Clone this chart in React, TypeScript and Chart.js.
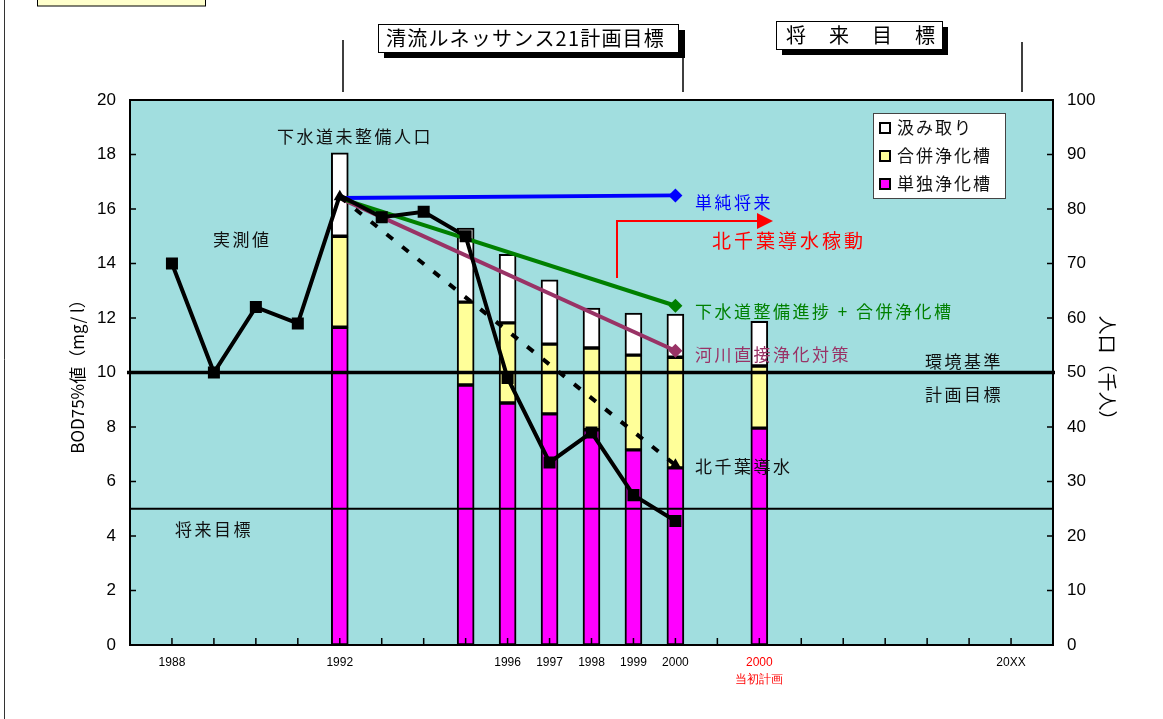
import React, { useEffect, useRef } from 'react';
import { Chart, registerables } from 'chart.js';
Chart.register(...registerables);

const JP = '"Noto Sans CJK JP", sans-serif';
const LAT = '"Liberation Sans", Arial, sans-serif';

const N = null;
// category slots (index 0 and 22 are empty padding slots)
const categories = ['', '1988', '1989', '1990', '1991', '1992', '1993', '1994', '1995', '1996', '1997', '1998', '1999', '2000', '', '2000当初計画', '', '', '', '', '', '20XX', ''];
const tickLabels: (string | string[])[] = ['', '1988', '', '', '', '1992', '', '', '', '1996', '1997', '1998', '1999', '2000', '', ['2000', '当初計画'], '', '', '', '', '', '20XX', ''];

// population (thousand people) – right axis
const singleTank = [N, N, N, N, N, 58.3, N, N, 47.7, 44.4, 42.4, 39.5, 35.8, 32.5, N, 39.8, N, N, N, N, N, N, N];
const combinedTank = [N, N, N, N, N, 16.7, N, N, 15.2, 14.7, 12.8, 15.0, 17.4, 20.3, N, 11.4, N, N, N, N, N, N, N];
const pumping = [N, N, N, N, N, 15.3, N, N, 13.6, 12.6, 11.8, 7.3, 7.7, 7.9, N, 8.2, N, N, N, N, N, N, N];

// BOD (mg/l) – left axis
const measured = [N, 14.0, 10.0, 12.4, 11.8, 16.5, 15.7, 15.9, 15.0, 9.8, 6.7, 7.8, 5.5, 4.55, N, N, N, N, N, N, N, N, N];
const kitachiba = [N, N, N, N, N, 16.45, N, N, N, N, N, N, N, 6.6, N, N, N, N, N, N, N, N, N];
const simpleFuture = [N, N, N, N, N, 16.4, N, N, N, N, N, N, N, 16.5, N, N, N, N, N, N, N, N, N];
const sewerProgress = [N, N, N, N, N, 16.4, N, N, N, N, N, N, N, 12.45, N, N, N, N, N, N, N, N, N];
const riverPurify = [N, N, N, N, N, 16.4, N, N, N, N, N, N, N, 10.8, N, N, N, N, N, N, N, N, N];

const envStandard = 10;
const futureTarget = 5;

const BG = '#A1DEDF';

function jpText(ctx: CanvasRenderingContext2D, text: string, x: number, y: number, color: string, size = 17, spacing = 2.5, align: CanvasTextAlign = 'left') {
  ctx.save();
  ctx.font = `${size}px ${JP}`;
  (ctx as any).letterSpacing = `${spacing}px`;
  ctx.fillStyle = color;
  ctx.textAlign = align;
  ctx.textBaseline = 'middle';
  ctx.fillText(text, x, y);
  ctx.restore();
}

function drawHLines(chart: any) {
  const { ctx, chartArea: a, scales } = chart;
  const y = scales.y;
  ctx.save();
  ctx.strokeStyle = '#000';
  ctx.lineWidth = 3.5;
  ctx.beginPath();
  const y10 = y.getPixelForValue(envStandard);
  ctx.moveTo(a.left - 3, y10);
  ctx.lineTo(a.right + 2, y10);
  ctx.stroke();
  ctx.lineWidth = 2;
  ctx.beginPath();
  const y5 = y.getPixelForValue(futureTarget);
  ctx.moveTo(a.left, y5);
  ctx.lineTo(a.right, y5);
  ctx.stroke();
  ctx.restore();
}

const decor = {
  id: 'decor',
  beforeDraw(chart: any) {
    const { ctx, chartArea: a } = chart;
    ctx.save();
    ctx.fillStyle = '#fff';
    ctx.fillRect(0, 0, chart.width, chart.height);
    ctx.fillStyle = BG;
    ctx.fillRect(a.left, a.top, a.right - a.left, a.bottom - a.top);
    ctx.restore();
  },
  beforeDatasetsDraw(chart: any) {
    chart.$hDrawn = false;
  },
  beforeDatasetDraw(chart: any, args: any) {
    if (!chart.$hDrawn && args.meta.type === 'line') {
      drawHLines(chart);
      chart.$hDrawn = true;
    }
  },
  afterDatasetsDraw(chart: any) {
    const { ctx, chartArea: a, scales } = chart;
    if (!chart.$hDrawn) drawHLines(chart);
    const x = scales.x, y = scales.y, y2 = scales.y2;
    ctx.save();
    ctx.strokeStyle = '#000';
    ctx.lineWidth = 1.5;
    // inner tick marks
    ctx.beginPath();
    for (let i = 1; i <= 21; i++) {
      const px = x.getPixelForValue(i);
      ctx.moveTo(px, a.bottom);
      ctx.lineTo(px, a.bottom - 7);
    }
    y.ticks.forEach((t: any) => {
      const py = y.getPixelForValue(t.value);
      ctx.moveTo(a.left, py);
      ctx.lineTo(a.left + 6, py);
    });
    y2.ticks.forEach((t: any) => {
      const py = y2.getPixelForValue(t.value);
      ctx.moveTo(a.right, py);
      ctx.lineTo(a.right - 6, py);
    });
    ctx.stroke();
    // plot border
    ctx.lineWidth = 2;
    ctx.strokeRect(a.left, a.top, a.right - a.left, a.bottom - a.top);
    ctx.restore();

    // annotations
    jpText(ctx, '下水道未整備人口', 355, 137, '#111', 17, 2.5, 'center');
    jpText(ctx, '実測値', 213, 240, '#111');
    jpText(ctx, '単純将来', 695, 203, '#0000FF');
    jpText(ctx, '北千葉導水稼動', 712, 241, '#FF0000', 19, 3);
    jpText(ctx, '下水道整備進捗 + 合併浄化槽', 695, 312, '#008000');
    jpText(ctx, '河川直接浄化対策', 695, 355, '#993366');
    jpText(ctx, '環境基準', 925, 362, '#111');
    jpText(ctx, '計画目標', 925, 395, '#111');
    jpText(ctx, '北千葉導水', 695, 467, '#111');
    jpText(ctx, '将来目標', 175, 530, '#111');

    // red arrow
    ctx.save();
    ctx.strokeStyle = '#FF0000';
    ctx.fillStyle = '#FF0000';
    ctx.lineWidth = 2;
    ctx.beginPath();
    ctx.moveTo(617, 278);
    ctx.lineTo(617, 221);
    ctx.lineTo(758, 221);
    ctx.stroke();
    ctx.beginPath();
    ctx.moveTo(757, 213);
    ctx.lineTo(773, 221);
    ctx.lineTo(757, 229);
    ctx.closePath();
    ctx.fill();
    ctx.restore();

    // legend
    ctx.save();
    ctx.fillStyle = '#fff';
    ctx.fillRect(873, 113, 132, 85);
    ctx.strokeStyle = '#444';
    ctx.lineWidth = 1;
    ctx.strokeRect(873.5, 113.5, 132, 85);
    const items: [string, string][] = [['汲み取り', '#FFFFFF'], ['合併浄化槽', '#FFFF99'], ['単独浄化槽', '#FF00FF']];
    items.forEach(([t, c], i) => {
      const cy = 128 + i * 28;
      ctx.fillStyle = c;
      ctx.fillRect(880, cy - 5, 10, 10);
      ctx.strokeStyle = '#000';
      ctx.lineWidth = 2;
      ctx.strokeRect(880, cy - 5, 10, 10);
      jpText(ctx, t, 897, cy, '#111', 17, 2);
    });
    ctx.restore();
  },
  afterDraw(chart: any) {
    const { ctx } = chart;
    ctx.save();
    // page left line
    ctx.strokeStyle = '#333';
    ctx.lineWidth = 1;
    ctx.beginPath();
    ctx.moveTo(4.5, 0);
    ctx.lineTo(4.5, 719);
    ctx.stroke();
    // top-left yellow box
    ctx.fillStyle = '#FFFFCC';
    ctx.fillRect(37, -2, 168, 8);
    ctx.strokeStyle = '#000';
    ctx.strokeRect(37.5, -2, 168, 8);
    // box 1
    ctx.fillStyle = '#000';
    ctx.fillRect(384, 30, 301, 28);
    ctx.fillStyle = '#fff';
    ctx.fillRect(378, 24, 300, 28);
    ctx.strokeStyle = '#000';
    ctx.lineWidth = 1;
    ctx.strokeRect(378.5, 24.5, 300, 28);
    // box 2
    ctx.fillStyle = '#000';
    ctx.fillRect(782, 27, 166, 28);
    ctx.fillStyle = '#fff';
    ctx.fillRect(776, 21, 166, 28);
    ctx.strokeRect(776.5, 21.5, 166, 28);
    // vertical markers
    ctx.lineWidth = 1.5;
    ctx.beginPath();
    ctx.moveTo(343, 40); ctx.lineTo(343, 92);
    ctx.moveTo(683, 55); ctx.lineTo(683, 92);
    ctx.moveTo(1022, 42); ctx.lineTo(1022, 92);
    ctx.stroke();
    ctx.restore();
    jpText(ctx, '清流ルネッサンス21計画目標', 386, 38.5, '#000', 20, 1.2);
    jpText(ctx, '将　来　目　標', 786, 35.5, '#000', 20, 1.5);
  },
};

export default function App() {
  const ref = useRef<HTMLCanvasElement | null>(null);
  useEffect(() => {
    const cv = ref.current;
    if (!cv) return;
    const barDs = (label: string, data: (number | null)[], color: string) => ({
      type: 'bar' as const,
      label,
      data,
      backgroundColor: color,
      borderColor: '#000',
      borderWidth: 2,
      borderSkipped: false as any,
      barThickness: 17,
      yAxisID: 'y2',
      stack: 'pop',
      order: 10,
    });
    const endLine = (label: string, data: (number | null)[], color: string) => ({
      type: 'line' as const,
      label,
      data,
      borderColor: color,
      backgroundColor: color,
      borderWidth: 4,
      pointStyle: 'rectRot' as const,
      pointRadius: (c: any) => (c.dataIndex === 13 ? 7 : 0),
      pointBorderWidth: 0,
      spanGaps: true,
      yAxisID: 'y',
      order: 4,
    });
    const chart = new Chart(cv, {
      data: {
        labels: categories,
        datasets: [
          barDs('単独浄化槽', singleTank, '#FF00FF'),
          barDs('合併浄化槽', combinedTank, '#FFFF99'),
          barDs('汲み取り', pumping, '#FFFFFF'),
          endLine('単純将来', simpleFuture, '#0000FF'),
          endLine('下水道整備進捗 + 合併浄化槽', sewerProgress, '#008000'),
          endLine('河川直接浄化対策', riverPurify, '#993366'),
          {
            type: 'line',
            label: '北千葉導水',
            data: kitachiba,
            borderColor: '#000',
            backgroundColor: '#000',
            borderWidth: 4,
            borderDash: [8, 12],
            pointStyle: 'triangle',
            pointRadius: 7,
            pointBorderWidth: 0,
            spanGaps: true,
            yAxisID: 'y',
            order: 3,
          },
          {
            type: 'line',
            label: '実測値',
            data: measured,
            borderColor: '#000',
            backgroundColor: '#000',
            borderWidth: 4,
            pointStyle: 'rect',
            pointRadius: (c: any) => (c.dataIndex === 5 ? 0 : 8.5),
            pointBorderWidth: 0,
            spanGaps: false,
            yAxisID: 'y',
            order: 1,
          },
        ] as any,
      },
      options: {
        responsive: false,
        animation: false,
        events: [],
        layout: { padding: { top: 100, left: 0, right: 0, bottom: 0 } },
        plugins: { legend: { display: false }, tooltip: { enabled: false } },
        scales: {
          x: {
            type: 'category',
            offset: false,
            stacked: true,
            grid: { display: false, drawTicks: false },
            border: { display: false },
            ticks: {
              autoSkip: false,
              maxRotation: 0,
              minRotation: 0,
              padding: 9,
              font: { family: LAT, size: 12, lineHeight: 1.45 },
              color: (c: any) => (c.index === 15 ? '#FF0000' : '#000'),
              callback: (_v: any, i: number) => tickLabels[i],
            },
            afterFit: (s: any) => { s.height = 74; },
          },
          y: {
            position: 'left',
            min: 0,
            max: 20,
            grid: { display: false, drawTicks: false },
            border: { display: false },
            ticks: { stepSize: 2, padding: 14, color: '#000', font: { family: LAT, size: 17 } },
            title: {
              display: true,
              text: 'BOD75%値（mg/ l）',
              color: '#000',
              font: { family: JP, size: 17 },
              padding: { top: 67, bottom: 0 },
            },
            afterFit: (s: any) => { s.width = 130; },
          },
          y2: {
            position: 'right',
            min: 0,
            max: 100,
            stacked: true,
            grid: { display: false, drawTicks: false },
            border: { display: false },
            ticks: { stepSize: 10, padding: 14, color: '#000', font: { family: LAT, size: 17 } },
            title: {
              display: true,
              text: '人口（千人）',
              color: '#000',
              font: { family: JP, size: 19 },
              padding: { top: 44, bottom: 0 },
            },
            afterFit: (s: any) => { s.width = 110; },
          },
        },
      } as any,
      plugins: [decor],
    });
    return () => chart.destroy();
  }, []);
  return (
    <div style={{ position: 'absolute', left: 0, top: 0, width: 1163, height: 719, background: '#fff' }}>
      <canvas ref={ref} width={1163} height={719} style={{ display: 'block' }} />
    </div>
  );
}
